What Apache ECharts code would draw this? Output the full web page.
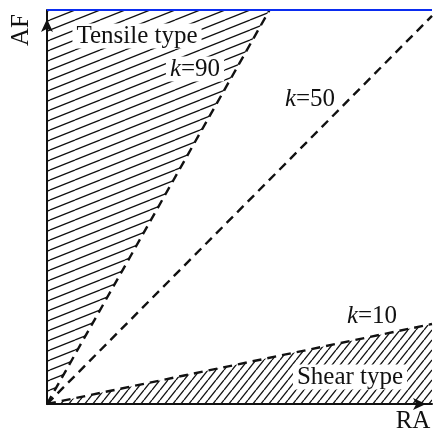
<!DOCTYPE html>
<html><head><meta charset="utf-8">
<script src="https://cdn.jsdelivr.net/npm/echarts@6/dist/echarts.min.js"></script>
<style>html,body{margin:0;padding:0;background:#fff}#c{width:433px;height:434px}</style>
</head><body><div id="c"></div>
<script>
// Boundary lines (RA, AF) in relative units 0..100
const k90 = [[0, 0], [57.8, 100]];
const k50 = [[0, 0], [100, 98.5]];
const k10 = [[0, 0], [100, 20.3]];
const topLine = [[0, 100], [100, 100]];
const labels = { x: 'RA', y: 'AF', tensile: 'Tensile type', shear: 'Shear type', k90: '90', k50: '50', k10: '10' };

function hatch(w, h, lw) {
  const c = document.createElement('canvas'); c.width = w; c.height = h;
  const g = c.getContext('2d'); g.strokeStyle = '#111'; g.lineWidth = lw;
  for (const n of [-1, 0, 1]) { g.beginPath(); g.moveTo(0, h + n * h); g.lineTo(w, n * h); g.stroke(); }
  return c;
}
const FONT = "'Liberation Serif','Times New Roman',serif";
const chart = echarts.init(document.getElementById('c'), null, { renderer: 'canvas' });
const dash = { color: '#111', width: 2.4, type: [9, 6] };
function kText(num) { return '{i|k}=' + num; }
const rich = { i: { fontStyle: 'italic', fontFamily: FONT, fontSize: 25, fill: '#111' } };
function txt(x, y, text, bg, extra) {
  return Object.assign({ type: 'text', x: x, y: y, z: 100, style: { text: text, font: '25px ' + FONT, fill: '#111', align: 'center', verticalAlign: 'middle', rich: rich, backgroundColor: bg ? '#fff' : undefined, padding: bg ? [0, 4] : 0 } }, extra || {});
}
chart.setOption({
  animation: false,
  grid: { left: 47, right: 1, top: 10, bottom: 30 },
  xAxis: { type: 'value', min: 0, max: 100, axisLabel: { show: false }, axisTick: { show: false }, splitLine: { show: false },
    axisLine: { lineStyle: { color: '#111', width: 2 }, symbol: ['none', 'arrow'], symbolSize: [9, 13], symbolOffset: [0, -6] } },
  yAxis: { type: 'value', min: 0, max: 100, axisLabel: { show: false }, axisTick: { show: false }, splitLine: { show: false },
    axisLine: { show: true, lineStyle: { color: '#111', width: 2 }, symbol: ['none', 'arrow'], symbolSize: [9, 13], symbolOffset: [0, -9] } },
  series: [
    { type: 'line', data: k90, symbol: 'none', lineStyle: dash, z: 5,
      areaStyle: { origin: 'end', color: { image: hatch(25, 10, 1.3), repeat: 'repeat' }, opacity: 1 } },
    { type: 'line', data: k10, symbol: 'none', lineStyle: dash, z: 5,
      areaStyle: { origin: 'start', color: { image: hatch(8, 10, 1.3), repeat: 'repeat' }, opacity: 1 } },
    { type: 'line', data: k50, symbol: 'none', lineStyle: dash, z: 5 },
    { type: 'line', data: topLine, symbol: 'none', lineStyle: { color: '#0a2cf0', width: 2 }, z: 6 }
  ],
  graphic: [
    txt(137, 36, labels.tensile, true),
    txt(195, 69, kText(labels.k90), true),
    txt(310, 99, kText(labels.k50), false),
    txt(372, 316, kText(labels.k10), false),
    txt(350, 377, labels.shear, true),
    txt(413, 421, labels.x, false),
    txt(21, 30, labels.y, false, { rotation: Math.PI / 2 })
  ]
});
</script></body></html>
